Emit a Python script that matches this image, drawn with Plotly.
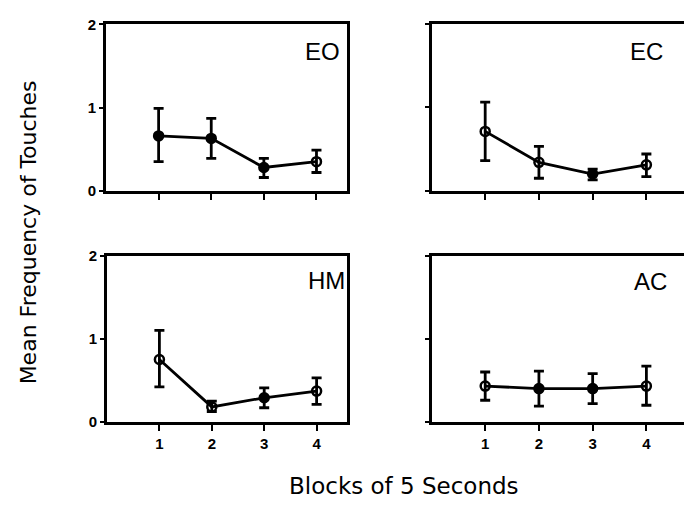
import plotly.graph_objects as go

blocks = [1, 2, 3, 4]
tick_labels = ["1", "2", "3", "4"]
panels = ["EO", "EC", "HM", "AC"]

eo_mean = [0.66, 0.63, 0.28, 0.35]
eo_upper = [0.99, 0.87, 0.39, 0.49]
eo_lower = [0.35, 0.39, 0.16, 0.22]

ec_mean = [0.71, 0.34, 0.20, 0.31]
ec_upper = [1.06, 0.53, 0.26, 0.44]
ec_lower = [0.36, 0.15, 0.13, 0.17]

hm_mean = [0.75, 0.18, 0.29, 0.37]
hm_upper = [1.10, 0.25, 0.41, 0.53]
hm_lower = [0.42, 0.125, 0.17, 0.21]

ac_mean = [0.43, 0.40, 0.40, 0.43]
ac_upper = [0.60, 0.61, 0.58, 0.67]
ac_lower = [0.26, 0.19, 0.22, 0.20]

eo_symbols = ["circle", "circle", "circle", "circle-open"]
ec_symbols = ["circle-open", "circle-open", "circle", "circle-open"]
hm_symbols = ["circle-open", "circle-open", "circle", "circle-open"]
ac_symbols = ["circle-open", "circle", "circle", "circle-open"]

series = [
    (eo_mean, eo_upper, eo_lower, eo_symbols),
    (ec_mean, ec_upper, ec_lower, ec_symbols),
    (hm_mean, hm_upper, hm_lower, hm_symbols),
    (ac_mean, ac_upper, ac_lower, ac_symbols),
]

W, H = 684, 514
FONT = "Liberation Sans, Arial, sans-serif"
TITLE_FONT = "DejaVu Sans, Liberation Sans, sans-serif"

# pixel boxes (left, top, right, bottom)
boxes = [
    (106, 16, 347, 188),
    (432, 15, 684, 188),
    (107, 255, 347, 427),
    (432, 255, 684, 427),
]
xranges = [[0, 4.58], [0.01, 4.7], [0, 4.58], [0.01, 4.7]]

fig = go.Figure()
for i, ((m, up, lo, sym), box) in enumerate(zip(series, boxes)):
    n = i + 1
    xa = "x" if n == 1 else f"x{n}"
    ya = "y" if n == 1 else f"y{n}"
    fig.add_trace(go.Scatter(
        x=blocks, y=m, xaxis=xa, yaxis=ya, mode="lines+markers",
        line=dict(color="black", width=2.8),
        marker=dict(symbol=sym, size=9, color="black",
                    line=dict(color="black", width=2.5)),
        error_y=dict(type="data", symmetric=False,
                     array=[u - v for u, v in zip(up, m)],
                     arrayminus=[v - l for v, l in zip(m, lo)],
                     color="black", thickness=2.8, width=5),
        showlegend=False, hoverinfo="skip",
    ))
    l, t, r, b = box
    dom_x = [l / W, r / W]
    dom_y = [(H - b) / H, (H - t) / H]
    left = n in (1, 3)
    bottom = n in (3, 4)
    fig.layout[("xaxis" if n == 1 else f"xaxis{n}")] = dict(
        domain=dom_x, range=xranges[i], anchor=ya,
        tickvals=blocks, ticktext=tick_labels if bottom else [""] * 4,
        ticks="outside", ticklen=6, tickwidth=2, tickcolor="black",
        showline=True, linecolor="black", linewidth=3,
        mirror=True, showgrid=False, zeroline=False,
        tickfont=dict(family=FONT, size=15, color="black", weight="bold"),
    )
    fig.layout[("yaxis" if n == 1 else f"yaxis{n}")] = dict(
        domain=dom_y, range=[0, 2], anchor=xa,
        tickvals=[0, 1, 2], ticktext=["0", "1", "2"] if left else ["", "", ""],
        ticks="outside", ticklen=4, tickwidth=2, tickcolor="black",
        showline=True, linecolor="black", linewidth=3,
        mirror=left, showgrid=False, zeroline=False,
        tickfont=dict(family=FONT, size=15, color="black", weight="bold"),
    )

label_pos = [(322, 44), (646, 44), (326, 281), (650, 282)]
for name, (px, py) in zip(panels, label_pos):
    fig.add_annotation(x=px / W, y=1 - py / H, xref="paper", yref="paper",
                       xanchor="center", yanchor="middle",
                       text=name, showarrow=False,
                       font=dict(family=FONT, size=24, color="black"))

fig.add_annotation(x=28 / W, y=1 - 231 / H, xref="paper", yref="paper",
                   xanchor="center", yanchor="middle",
                   text="Mean Frequency of Touches", textangle=-90,
                   showarrow=False, font=dict(family=TITLE_FONT, size=22, color="black"))
fig.add_annotation(x=404 / W, y=1 - 493 / H, xref="paper", yref="paper",
                   xanchor="center", yanchor="middle",
                   text="Blocks of 5 Seconds", showarrow=False,
                   font=dict(family=TITLE_FONT, size=23, color="black"))

fig.update_layout(width=W, height=H, margin=dict(l=0, r=0, t=0, b=0),
                  paper_bgcolor="white", plot_bgcolor="white", hovermode=False)
fig.write_html("out.html", config={"displayModeBar": False},
               post_script="document.body.style.margin='0';document.body.style.overflow='hidden';")
